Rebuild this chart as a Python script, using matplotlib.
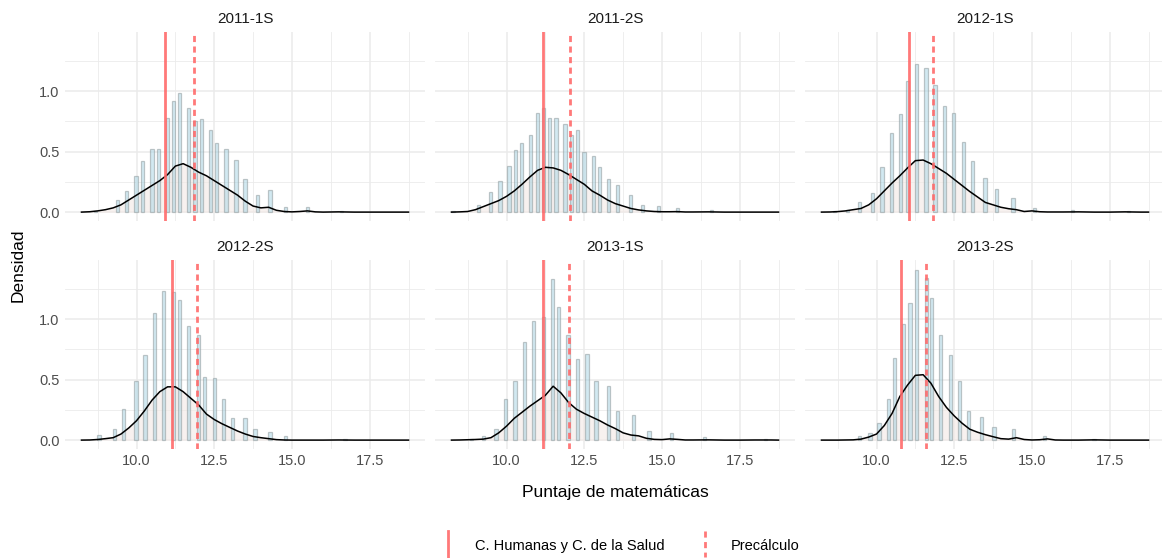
import matplotlib
matplotlib.use("Agg")
import matplotlib.pyplot as plt
from matplotlib.lines import Line2D
import numpy as np

plt.rcParams['font.family'] = ['Liberation Sans', 'DejaVu Sans']

PANELS = ["2011-1S", "2011-2S", "2012-1S", "2012-2S", "2013-1S", "2013-2S"]

# Histogram bar centres and heights (density) per panel
BAR_X = {
    "2011-1S": [8.68, 9.39, 9.68, 9.98, 10.19, 10.50, 10.70, 10.99, 11.20, 11.39, 11.68, 11.88, 12.09,
                12.39, 12.58, 12.88, 13.20, 13.49, 13.89, 14.29, 14.80, 15.50, 16.60],
    "2011-2S": [8.28, 9.09, 9.49, 9.79, 10.08, 10.29, 10.48, 10.78, 10.99, 11.20, 11.39, 11.59, 11.88,
                12.09, 12.29, 12.49, 12.79, 13.00, 13.29, 13.57, 14.00, 14.38, 14.88, 15.49, 16.60],
    "2012-1S": [8.66, 9.07, 9.46, 9.87, 10.18, 10.48, 10.77, 10.99, 11.28, 11.59, 11.88, 12.18, 12.47,
                12.79, 13.08, 13.49, 13.87, 14.39, 15.08, 16.30, 18.10],
    "2012-2S": [8.79, 9.30, 9.59, 9.98, 10.27, 10.59, 10.88, 11.20, 11.39, 11.68, 12.00, 12.18, 12.50,
                12.79, 13.09, 13.49, 13.81, 14.29, 14.80, 16.71],
    "2013-1S": [8.87, 9.27, 9.66, 9.97, 10.27, 10.57, 10.88, 11.20, 11.48, 11.68, 11.98, 12.29, 12.59,
                12.88, 13.27, 13.57, 14.08, 14.58, 15.31, 16.38, 18.32],
    "2013-2S": [9.46, 9.79, 10.08, 10.38, 10.59, 10.87, 11.08, 11.28, 11.60, 11.78, 12.07, 12.38, 12.67,
                12.97, 13.37, 13.78, 14.40, 15.40, 17.00],
}
BAR_Y = {
    "2011-1S": [0.01, 0.097, 0.174, 0.30, 0.42, 0.52, 0.52, 0.78, 0.92, 0.98, 0.86, 0.75, 0.77,
                0.68, 0.57, 0.52, 0.43, 0.27, 0.14, 0.18, 0.04, 0.04, 0.01],
    "2011-2S": [0.01, 0.06, 0.17, 0.26, 0.38, 0.51, 0.57, 0.64, 0.82, 0.86, 0.78, 0.78, 0.73,
                0.64, 0.68, 0.50, 0.46, 0.37, 0.27, 0.22, 0.14, 0.06, 0.05, 0.03, 0.02],
    "2012-1S": [0.008, 0.02, 0.085, 0.16, 0.37, 0.65, 0.81, 1.08, 1.22, 1.19, 1.05, 0.88, 0.82,
                0.58, 0.42, 0.28, 0.19, 0.12, 0.03, 0.02, 0.008],
    "2012-2S": [0.04, 0.09, 0.26, 0.49, 0.70, 1.05, 1.23, 1.22, 1.16, 0.94, 0.865, 0.52, 0.51,
                0.34, 0.185, 0.185, 0.09, 0.07, 0.035, 0.01],
    "2013-1S": [0.01, 0.03, 0.09, 0.34, 0.49, 0.81, 0.98, 1.02, 1.33, 1.10, 0.865, 0.67, 0.71,
                0.49, 0.45, 0.24, 0.21, 0.077, 0.055, 0.025, 0.01],
    "2013-2S": [0.033, 0.055, 0.143, 0.336, 0.68, 0.96, 1.135, 1.405, 1.34, 1.176, 0.865, 0.70, 0.49,
                0.24, 0.193, 0.11, 0.088, 0.033, 0.01],
}

# Kernel density curve (common x grid)
DENS_X = [8.23, 8.5, 8.75, 9.0, 9.25, 9.5, 9.75, 10.0, 10.25, 10.5, 10.75, 11.0, 11.25, 11.5, 11.75,
          12.0, 12.25, 12.5, 12.75, 13.0, 13.25, 13.5, 13.75, 14.0, 14.25, 14.5, 14.75, 15.0, 15.25,
          15.5, 15.75, 16.0, 16.5, 17.0, 17.5, 18.0, 18.5, 18.75]
DENS_Y = {
    "2011-1S": [0, 0.003, 0.01, 0.02, 0.035, 0.06, 0.10, 0.14, 0.18, 0.22, 0.26, 0.31, 0.38, 0.40, 0.37,
                0.33, 0.30, 0.26, 0.22, 0.18, 0.14, 0.09, 0.05, 0.035, 0.04, 0.015, 0.005, 0.002, 0.005,
                0.01, 0.002, 0, 0.002, 0, 0, 0, 0, 0],
    "2011-2S": [0, 0.002, 0.005, 0.02, 0.045, 0.07, 0.095, 0.13, 0.175, 0.23, 0.29, 0.345, 0.37, 0.365,
                0.345, 0.31, 0.27, 0.23, 0.175, 0.14, 0.10, 0.07, 0.05, 0.03, 0.018, 0.01, 0.005, 0.003,
                0.003, 0.004, 0.001, 0.001, 0.002, 0, 0, 0, 0, 0],
    "2012-1S": [0, 0.001, 0.004, 0.01, 0.02, 0.03, 0.06, 0.11, 0.175, 0.24, 0.30, 0.365, 0.425, 0.43,
                0.40, 0.36, 0.32, 0.27, 0.22, 0.17, 0.125, 0.08, 0.06, 0.04, 0.028, 0.02, 0.005, 0.01,
                0.003, 0.001, 0.001, 0.001, 0.002, 0, 0, 0.002, 0, 0],
    "2012-2S": [0, 0.001, 0.005, 0.012, 0.02, 0.05, 0.10, 0.16, 0.24, 0.33, 0.40, 0.44, 0.44, 0.40,
                0.345, 0.29, 0.215, 0.17, 0.135, 0.105, 0.075, 0.05, 0.03, 0.02, 0.012, 0.004, 0.001, 0,
                0, 0, 0, 0, 0.001, 0, 0, 0, 0, 0],
    "2013-1S": [0, 0.001, 0.003, 0.005, 0.008, 0.02, 0.06, 0.115, 0.18, 0.23, 0.28, 0.325, 0.37, 0.445,
                0.39, 0.31, 0.255, 0.22, 0.19, 0.16, 0.125, 0.095, 0.06, 0.042, 0.035, 0.015, 0.006,
                0.004, 0.01, 0.006, 0.001, 0.001, 0.002, 0, 0, 0.001, 0.001, 0],
    "2013-2S": [0, 0, 0, 0.001, 0.002, 0.008, 0.025, 0.05, 0.12, 0.22, 0.36, 0.455, 0.535, 0.54, 0.47,
                0.36, 0.27, 0.20, 0.14, 0.09, 0.065, 0.045, 0.028, 0.012, 0.008, 0.02, 0.005, 0.001,
                0.003, 0.01, 0.001, 0, 0, 0.002, 0, 0, 0, 0],
}

# Reference lines (means)
HUMANAS = [10.93, 11.18, 11.03, 11.15, 11.18, 10.80]
PRECALCULO = [11.86, 12.05, 11.81, 11.93, 12.02, 11.58]

LEGEND_LABELS = ["C. Humanas y C. de la Salud", "Precálculo"]
X_TICKS = [10.0, 12.5, 15.0, 17.5]
X_MINOR = [8.75, 11.25, 13.75, 16.25, 18.75]
Y_TICKS = [0.0, 0.5, 1.0]
Y_MINOR = [0.25, 0.75, 1.25]

W, H = 1162, 558
fig = plt.figure(figsize=(W / 100, H / 100), dpi=100)
fig.patch.set_facecolor("white")

XLIM = (7.70, 19.28)
YLIM = (-0.071, 1.49)
BINW = 0.105
RED = "#ff6a6a"
GRID = "#ebebeb"
TXT = "#4d4d4d"

lefts = [65, 435, 805]
tops = [31.7, 259.7]
pw, ph = 360, 189

for i, name in enumerate(PANELS):
    r, c = divmod(i, 3)
    ax = fig.add_axes([lefts[c] / W, 1 - (tops[r] + ph) / H, pw / W, ph / H])
    ax.set_xlim(*XLIM)
    ax.set_ylim(*YLIM)
    for s in ax.spines.values():
        s.set_visible(False)
    for v in X_MINOR:
        ax.axvline(v, color=GRID, lw=0.6, zorder=0)
    for v in X_TICKS:
        ax.axvline(v, color=GRID, lw=1.1, zorder=0)
    for v in Y_MINOR:
        ax.axhline(v, color=GRID, lw=0.6, zorder=0)
    for v in Y_TICKS:
        ax.axhline(v, color=GRID, lw=1.1, zorder=0)

    ax.fill_between(DENS_X, DENS_Y[name], 0, color="#f3e9e5", alpha=0.6, lw=0, zorder=1)
    ax.bar(BAR_X[name], BAR_Y[name], width=BINW, color="#add8e6", alpha=0.55,
           edgecolor="#8f9a9c", linewidth=0.9, zorder=2)
    ax.plot(DENS_X, DENS_Y[name], color="black", lw=1.1, zorder=4)
    ax.axvline(HUMANAS[i], color=RED, lw=2.0, alpha=0.9, zorder=5)
    ax.axvline(PRECALCULO[i], color=RED, lw=2.0, ls=(0, (2.2, 1.6)), alpha=0.9, zorder=5)

    ax.set_xticks(X_TICKS)
    ax.set_yticks(Y_TICKS)
    ax.tick_params(length=0, colors=TXT, labelsize=10.5, pad=4)
    if r == 0:
        ax.set_xticklabels([])
    else:
        ax.set_xticklabels([f"{v:.1f}" for v in X_TICKS])
    if c == 0:
        ax.set_yticklabels([f"{v:.1f}" for v in Y_TICKS])
    else:
        ax.set_yticklabels([])
    ax.set_title(name, fontsize=11, color="#1a1a1a", pad=6)

fig.text(615 / W, 1 - 492 / H, "Puntaje de matemáticas", ha="center", va="center",
         fontsize=12.5, color="black")
fig.text(18 / W, 1 - 265 / H, "Densidad", ha="center", va="center", rotation=90,
         fontsize=12.5, color="black")

# Legend (vertical line keys)
ky0, ky1 = 1 - 531 / H, 1 - 557 / H
fig.add_artist(Line2D([448 / W, 448 / W], [ky0, ky1], color=RED, lw=2.0, alpha=0.9))
fig.text(475 / W, 1 - 546 / H, LEGEND_LABELS[0], ha="left", va="center", fontsize=10.5, color="black")
fig.add_artist(Line2D([705 / W, 705 / W], [ky0, ky1], color=RED, lw=2.0, alpha=0.9,
                      ls=(0, (2.2, 1.6))))
fig.text(731 / W, 1 - 546 / H, LEGEND_LABELS[1], ha="left", va="center", fontsize=10.5, color="black")

fig.savefig("out.png", dpi=100, facecolor="white")
